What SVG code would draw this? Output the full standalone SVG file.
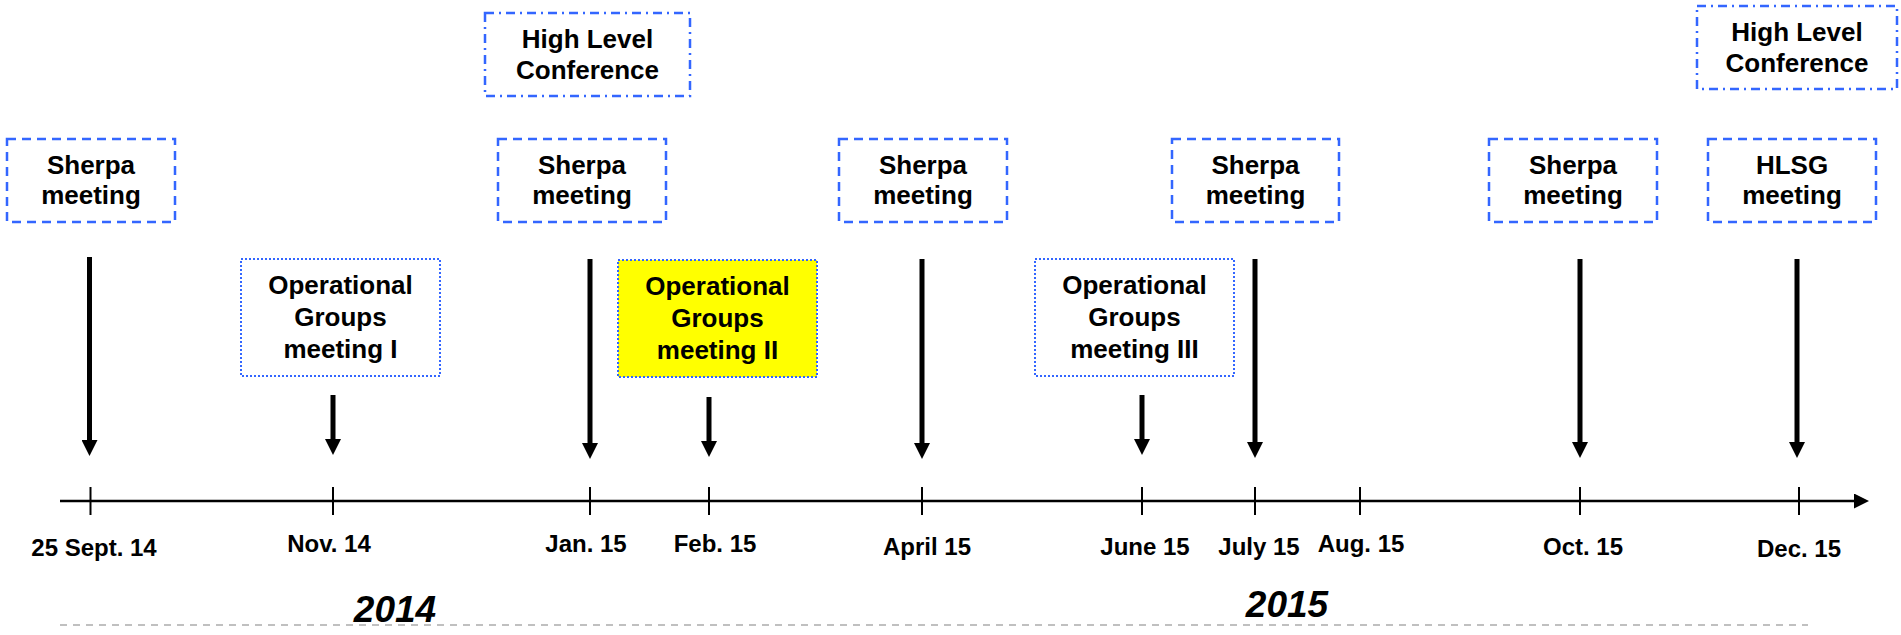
<svg xmlns="http://www.w3.org/2000/svg" width="1901" height="635" viewBox="0 0 1901 635">
<style>
text{font-family:"Liberation Sans",Arial,sans-serif;font-weight:bold;fill:#000}
.bt{font-size:26px;text-anchor:middle}
.dt{font-size:24px;text-anchor:middle}
.yr{font-size:37px;font-style:italic;text-anchor:middle}
.sherpa{fill:#fff;stroke:#3366FF;stroke-width:2.5;stroke-dasharray:9 6}
.hlc{fill:#fff;stroke:#3366FF;stroke-width:2.5;stroke-dasharray:9 5 2 5}
.og{fill:#fff;stroke:#3366FF;stroke-width:2;stroke-dasharray:2 2}
.arr{stroke:#000;stroke-width:5;marker-end:url(#ah)}
.tick{stroke:#000;stroke-width:2}
</style>
<defs>
<marker id="ah" markerUnits="userSpaceOnUse" markerWidth="16" markerHeight="16" refX="2" refY="8" orient="auto" viewBox="0 0 16 16">
<path d="M0,0 L16,8 L0,16 z" fill="#000"/>
</marker>
<marker id="axh" markerUnits="userSpaceOnUse" markerWidth="15" markerHeight="15" refX="1" refY="7.5" orient="auto" viewBox="0 0 15 15">
<path d="M0,0 L15,7.5 L0,15 z" fill="#000"/>
</marker>
</defs>

<g id="connectors">
<line x1="60" y1="501" x2="1855" y2="501" stroke="#000" stroke-width="2.5" marker-end="url(#axh)"/>
<line class="tick" x1="90.5" y1="487" x2="90.5" y2="515"/>
<line class="tick" x1="333" y1="487" x2="333" y2="515"/>
<line class="tick" x1="590" y1="487" x2="590" y2="515"/>
<line class="tick" x1="709" y1="487" x2="709" y2="515"/>
<line class="tick" x1="922" y1="487" x2="922" y2="515"/>
<line class="tick" x1="1142" y1="487" x2="1142" y2="515"/>
<line class="tick" x1="1255" y1="487" x2="1255" y2="515"/>
<line class="tick" x1="1360" y1="487" x2="1360" y2="515"/>
<line class="tick" x1="1580" y1="487" x2="1580" y2="515"/>
<line class="tick" x1="1799" y1="487" x2="1799" y2="515"/>
<line class="arr" x1="89.5" y1="257" x2="89.5" y2="442"/>
<line class="arr" x1="333" y1="395" x2="333" y2="441"/>
<line class="arr" x1="590" y1="259" x2="590" y2="445"/>
<line class="arr" x1="709" y1="397" x2="709" y2="443"/>
<line class="arr" x1="922" y1="259" x2="922" y2="445"/>
<line class="arr" x1="1142" y1="395" x2="1142" y2="441"/>
<line class="arr" x1="1255" y1="259" x2="1255" y2="444"/>
<line class="arr" x1="1580" y1="259" x2="1580" y2="444"/>
<line class="arr" x1="1797" y1="259" x2="1797" y2="444"/>
<line x1="60" y1="625" x2="1808" y2="625" stroke="#C0C0C0" stroke-width="2" stroke-dasharray="7 6"/>
</g>

<g id="sherpa1"><rect class="sherpa" x="7" y="139" width="168" height="83"/><text class="bt" x="91" y="174">Sherpa</text><text class="bt" x="91" y="204">meeting</text></g>
<g id="hlc1"><rect class="hlc" x="485" y="13" width="205" height="83"/><text class="bt" x="587.5" y="48">High Level</text><text class="bt" x="587.5" y="79">Conference</text></g>
<g id="sherpa2"><rect class="sherpa" x="498" y="139" width="168" height="83"/><text class="bt" x="582" y="174">Sherpa</text><text class="bt" x="582" y="204">meeting</text></g>
<g id="sherpa3"><rect class="sherpa" x="839" y="139" width="168" height="83"/><text class="bt" x="923" y="174">Sherpa</text><text class="bt" x="923" y="204">meeting</text></g>
<g id="sherpa4"><rect class="sherpa" x="1172" y="139" width="167" height="83"/><text class="bt" x="1255.5" y="174">Sherpa</text><text class="bt" x="1255.5" y="204">meeting</text></g>
<g id="sherpa5"><rect class="sherpa" x="1489" y="139" width="168" height="83"/><text class="bt" x="1573" y="174">Sherpa</text><text class="bt" x="1573" y="204">meeting</text></g>
<g id="hlsg"><rect class="sherpa" x="1708" y="139" width="168" height="83"/><text class="bt" x="1792" y="174">HLSG</text><text class="bt" x="1792" y="204">meeting</text></g>
<g id="hlc2"><rect class="hlc" x="1697" y="6" width="200" height="83"/><text class="bt" x="1797" y="41">High Level</text><text class="bt" x="1797" y="72">Conference</text></g>

<g id="og1"><rect class="og" x="241" y="259" width="199" height="117"/><text class="bt" x="340.5" y="294">Operational</text><text class="bt" x="340.5" y="326">Groups</text><text class="bt" x="340.5" y="358">meeting I</text></g>
<g id="og2"><rect class="og" x="618" y="260" width="199" height="117" style="fill:#FFFF00"/><text class="bt" x="717.5" y="295">Operational</text><text class="bt" x="717.5" y="327">Groups</text><text class="bt" x="717.5" y="359">meeting II</text></g>
<g id="og3"><rect class="og" x="1035" y="259" width="199" height="117"/><text class="bt" x="1134.5" y="294">Operational</text><text class="bt" x="1134.5" y="326">Groups</text><text class="bt" x="1134.5" y="358">meeting III</text></g>

<g id="dates">
<text class="dt" x="94" y="556">25 Sept. 14</text>
<text class="dt" x="329" y="552">Nov. 14</text>
<text class="dt" x="586" y="552">Jan. 15</text>
<text class="dt" x="715" y="552">Feb. 15</text>
<text class="dt" x="927" y="555">April 15</text>
<text class="dt" x="1145" y="555">June 15</text>
<text class="dt" x="1259" y="555">July 15</text>
<text class="dt" x="1361" y="552">Aug. 15</text>
<text class="dt" x="1583" y="555">Oct. 15</text>
<text class="dt" x="1799" y="557">Dec. 15</text>
</g>
<g id="years">
<text class="yr" x="395" y="622">2014</text>
<text class="yr" x="1287" y="617">2015</text>
</g>
</svg>
